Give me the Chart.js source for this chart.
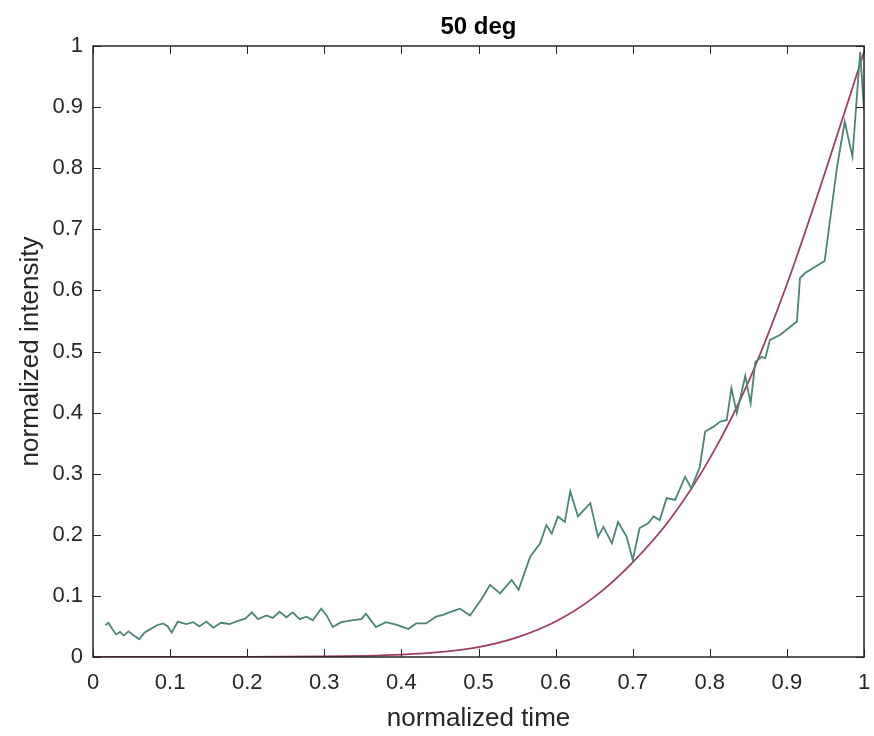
<!DOCTYPE html>
<html>
<head>
<meta charset="utf-8">
<title>50 deg</title>
<script src="https://cdn.jsdelivr.net/npm/chart.js@4.4.1/dist/chart.umd.min.js"></script>
<style>
  body { margin: 0; background: #ffffff; }
  #area_grafico { width: 874px; height: 736px; }
</style>
</head>
<body>
<div id="area_grafico"><canvas id="myChart" width="874" height="736"></canvas></div>
<script>

// datos medidos (tiempo normalizado / intensidad normalizada)
var timeVals = [
  0.016, 0.020, 0.025, 0.030, 0.035, 0.040, 0.046, 0.052, 0.060, 0.067,
  0.075, 0.083, 0.091, 0.097, 0.102, 0.110, 0.121, 0.130, 0.138, 0.147,
  0.156, 0.166, 0.177, 0.190, 0.198, 0.206, 0.214, 0.225, 0.233, 0.242,
  0.251, 0.259, 0.268, 0.277, 0.285, 0.296, 0.303, 0.311, 0.322, 0.335,
  0.348, 0.354, 0.367, 0.380, 0.393, 0.409, 0.419, 0.432, 0.445, 0.454,
  0.462, 0.476, 0.489, 0.504, 0.515, 0.528, 0.543, 0.552, 0.567, 0.580,
  0.588, 0.595, 0.603, 0.612, 0.619, 0.629, 0.645, 0.655, 0.662, 0.673,
  0.681, 0.692, 0.700, 0.709, 0.720, 0.727, 0.735, 0.744, 0.755, 0.768,
  0.776, 0.787, 0.794, 0.805, 0.813, 0.822, 0.828, 0.835, 0.846, 0.853,
  0.859, 0.867, 0.872, 0.878, 0.891, 0.902, 0.913, 0.917, 0.923, 0.949,
  0.965, 0.975, 0.985, 0.995, 1.000
];
var intensityVals = [
  0.052, 0.056, 0.046, 0.037, 0.041, 0.035, 0.042, 0.036, 0.029, 0.040,
  0.046, 0.052, 0.055, 0.050, 0.040, 0.058, 0.054, 0.057, 0.050, 0.058,
  0.048, 0.056, 0.054, 0.060, 0.063, 0.073, 0.062, 0.068, 0.064, 0.074,
  0.065, 0.073, 0.062, 0.066, 0.060, 0.079, 0.068, 0.049, 0.057, 0.060,
  0.062, 0.071, 0.049, 0.057, 0.053, 0.046, 0.055, 0.055, 0.066, 0.069,
  0.073, 0.079, 0.068, 0.095, 0.118, 0.104, 0.126, 0.110, 0.164, 0.186,
  0.216, 0.202, 0.230, 0.221, 0.271, 0.230, 0.252, 0.197, 0.213, 0.186,
  0.221, 0.197, 0.159, 0.211, 0.219, 0.230, 0.224, 0.260, 0.257, 0.295,
  0.276, 0.311, 0.369, 0.377, 0.385, 0.388, 0.440, 0.399, 0.460, 0.415,
  0.483, 0.491, 0.489, 0.519, 0.527, 0.538, 0.549, 0.620, 0.628, 0.648,
  0.802, 0.876, 0.819, 0.990, 0.895
];

// curva ajustada
var fitTime = [0, 0.1, 0.2, 0.3, 0.35, 0.4, 0.45, 0.5, 0.55, 0.6, 0.65, 0.7, 0.75, 0.8, 0.85, 0.9, 0.95, 1.0];
var fitVals = [0, 0, 0, 0.001, 0.002, 0.004, 0.008, 0.016, 0.032, 0.058, 0.098, 0.155, 0.228, 0.325, 0.45, 0.61, 0.795, 0.99];

var xTickVals = [0, 0.1, 0.2, 0.3, 0.4, 0.5, 0.6, 0.7, 0.8, 0.9, 1];
var xTickLabels = ['0', '0.1', '0.2', '0.3', '0.4', '0.5', '0.6', '0.7', '0.8', '0.9', '1'];
var yTickVals = [0, 0.1, 0.2, 0.3, 0.4, 0.5, 0.6, 0.7, 0.8, 0.9, 1];
var yTickLabels = ['0', '0.1', '0.2', '0.3', '0.4', '0.5', '0.6', '0.7', '0.8', '0.9', '1'];

var titulo = '50 deg';
var axisColor = '#262626';
var fuente = "'Liberation Sans', Arial, Helvetica, sans-serif";

function puntos(xs, ys) {
  var out = [];
  for (var i = 0; i < xs.length; i++) {
    out.push({x: xs[i], y: ys[i]});
  }
  return out;
}

// caja completa con ticks hacia adentro y titulo arriba
var cajaPlugin = {
  id: 'caja',
  afterDraw: function(chart) {
    var ctx = chart.ctx;
    var a = chart.chartArea;
    var sx = chart.scales.x;
    var sy = chart.scales.y;
    var len = 8;
    ctx.save();
    ctx.strokeStyle = axisColor;
    ctx.lineWidth = 1;
    ctx.beginPath();
    for (var i = 0; i < xTickVals.length; i++) {
      var px = Math.round(sx.getPixelForValue(xTickVals[i])) + 0.5;
      ctx.moveTo(px, a.bottom); ctx.lineTo(px, a.bottom - len);
      ctx.moveTo(px, a.top); ctx.lineTo(px, a.top + len);
    }
    for (var j = 0; j < yTickVals.length; j++) {
      var py = Math.round(sy.getPixelForValue(yTickVals[j])) + 0.5;
      ctx.moveTo(a.left, py); ctx.lineTo(a.left + len, py);
      ctx.moveTo(a.right, py); ctx.lineTo(a.right - len, py);
    }
    ctx.stroke();
    ctx.lineWidth = 1.5;
    ctx.strokeRect(a.left, a.top, a.right - a.left, a.bottom - a.top);

    ctx.fillStyle = '#000000';
    ctx.font = 'bold 24px ' + fuente;
    ctx.textAlign = 'center';
    ctx.textBaseline = 'middle';
    ctx.fillText(titulo, (a.left + a.right) / 2, 27);
    ctx.restore();
  }
};

var ctx = document.getElementById('myChart').getContext('2d');

var myChart = new Chart(ctx, {
  type: 'line',
  data: {
    datasets: [{
      label: 'medido',
      data: puntos(timeVals, intensityVals),
      borderColor: '#4a8577',
      borderWidth: 1.8,
      pointRadius: 0,
      tension: 0,
      fill: false
    }, {
      label: 'ajuste',
      data: puntos(fitTime, fitVals),
      borderColor: '#a23f58',
      borderWidth: 1.8,
      pointRadius: 0,
      cubicInterpolationMode: 'monotone',
      fill: false
    }]
  },
  options: {
    responsive: false,
    animation: false,
    layout: { padding: { top: 46, right: 10, left: 0, bottom: 0 } },
    plugins: {
      legend: { display: false },
      title: { display: false },
      tooltip: { enabled: false }
    },
    scales: {
      x: {
        type: 'linear',
        min: 0,
        max: 1,
        afterBuildTicks: function(s) {
          s.ticks = xTickVals.map(function(v) { return {value: v}; });
        },
        afterFit: function(s) {
          s.height = 79;
          s.paddingLeft = 0;
          s.paddingRight = 0;
        },
        grid: { drawOnChartArea: false, drawTicks: false },
        border: { display: false },
        ticks: {
          padding: 13,
          color: axisColor,
          maxRotation: 0,
          autoSkip: false,
          font: { size: 22, family: fuente },
          callback: function(v, i) { return xTickLabels[i]; }
        },
        title: {
          display: true,
          text: 'normalized time',
          color: axisColor,
          font: { size: 26, family: fuente },
          padding: { top: 0, bottom: 2 }
        }
      },
      y: {
        type: 'linear',
        min: 0,
        max: 1,
        afterBuildTicks: function(s) {
          s.ticks = yTickVals.map(function(v) { return {value: v}; });
        },
        afterFit: function(s) {
          s.width = 93;
          s.paddingTop = 0;
          s.paddingBottom = 0;
        },
        grid: { drawOnChartArea: false, drawTicks: false },
        border: { display: false },
        ticks: {
          padding: 10,
          color: axisColor,
          autoSkip: false,
          font: { size: 22, family: fuente },
          callback: function(v, i) { return yTickLabels[i]; }
        },
        title: {
          display: true,
          text: 'normalized intensity',
          color: axisColor,
          font: { size: 26, family: fuente },
          padding: { top: 15, bottom: 0 }
        }
      }
    }
  },
  plugins: [cajaPlugin]
});

</script>
</body>
</html>
